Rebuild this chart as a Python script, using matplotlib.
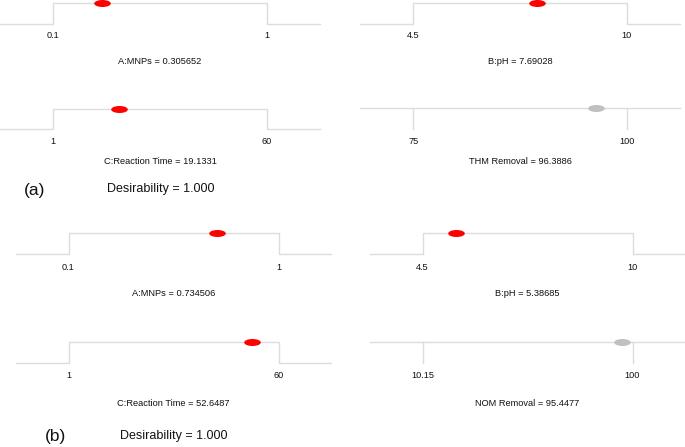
import matplotlib
matplotlib.use("Agg")
import matplotlib.pyplot as plt
from matplotlib.path import Path
from matplotlib.transforms import Affine2D

plt.rcParams['font.family'] = ['Liberation Sans', 'DejaVu Sans']

# ---------------- data ----------------
panel_labels = ["(a)", "(b)"]
factor_names = ["A:MNPs", "B:pH", "C:Reaction Time"]
factor_low = [0.1, 4.5, 1]
factor_high = [1, 10, 60]
factor_tick_labels = [["0.1", "1"], ["4.5", "10"], ["1", "60"]]
factor_values_a = [0.305652, 7.69028, 19.1331]
factor_values_b = [0.734506, 5.38685, 52.6487]
factor_value_text_a = ["0.305652", "7.69028", "19.1331"]
factor_value_text_b = ["0.734506", "5.38685", "52.6487"]
response_names = ["THM Removal", "NOM Removal"]
response_low = [75, 10.15]
response_high = [100, 100]
response_tick_labels = [["75", "100"], ["10.15", "100"]]
response_values = [96.3886, 95.4477]
response_value_text = ["96.3886", "95.4477"]
desirability = [1.000, 1.000]

# ---------------- layout (pixels) ----------------
W, H = 685, 447
fig = plt.figure(figsize=(W / 100, H / 100), dpi=100)

LINE = '#dcdcdc'
TXT = '#111111'
ell = Path.unit_circle().transformed(Affine2D().scale(1.0, 0.42))

def px_ax(left, top, width, height):
    return fig.add_axes([left / W, 1 - (top + height) / H, width / W, height / H])

def style(ax, lo, hi, ticklabels, lab_off, title, title_off):
    ext = 0.25 * (hi - lo)
    ax.set_xlim(lo - ext, hi + ext)
    ax.set_ylim(0, 1)
    for s in ax.spines.values():
        s.set_visible(False)
    ax.patch.set_visible(False)
    ax.set_yticks([])
    ax.set_xticks([lo, hi])
    ax.set_xticklabels(ticklabels, fontsize=6.6, color=TXT)
    ax.tick_params(axis='x', length=0, pad=(lab_off - 4.5) * 0.72)
    ax.annotate(title, xy=(0.5, 0), xycoords='axes fraction',
                xytext=(0, -title_off), textcoords='offset pixels',
                ha='center', va='center', fontsize=6.7, color=TXT)

def factor_ax(ax, i, val, valtxt, lab_off, title_off):
    lo, hi = factor_low[i], factor_high[i]
    ext = 0.25 * (hi - lo)
    ax.plot([lo - ext, lo, lo, hi, hi, hi + ext], [0, 0, 1, 1, 0, 0],
            color=LINE, lw=1.0, clip_on=False, solid_joinstyle='miter')
    ax.plot([val], [1], marker=ell, ms=12, color='#ff0000', mew=0,
            clip_on=False, zorder=3)
    style(ax, lo, hi, factor_tick_labels[i], lab_off,
          f"{factor_names[i]} = {valtxt}", title_off)

def response_ax(ax, j, lab_off, title_off):
    lo, hi = response_low[j], response_high[j]
    ext = 0.25 * (hi - lo)
    ax.plot([lo - ext, hi + ext], [1, 1], color=LINE, lw=1.0, clip_on=False)
    ax.plot([lo, lo], [0, 1], color=LINE, lw=1.0, clip_on=False)
    ax.plot([hi, hi], [0, 1], color=LINE, lw=1.0, clip_on=False)
    ax.plot([response_values[j]], [1], marker=ell, ms=12, color='#c0c0c0',
            mew=0, clip_on=False, zorder=3)
    style(ax, lo, hi, response_tick_labels[j], lab_off,
          f"{response_names[j]} = {response_value_text[j]}", title_off)

# panel (a)
factor_ax(px_ax(0, 3, 320, 21), 0, factor_values_a[0], factor_value_text_a[0], 11, 38)
factor_ax(px_ax(360, 3, 320, 21), 1, factor_values_a[1], factor_value_text_a[1], 11, 38)
factor_ax(px_ax(0, 109, 320, 20), 2, factor_values_a[2], factor_value_text_a[2], 12, 33)
response_ax(px_ax(360, 108, 320, 21), 0, 12, 33)

# panel (b)
factor_ax(px_ax(16, 233, 315, 21), 0, factor_values_b[0], factor_value_text_b[0], 13, 40)
factor_ax(px_ax(370, 233, 315, 21), 1, factor_values_b[1], factor_value_text_b[1], 13, 40)
factor_ax(px_ax(16, 342, 315, 21), 2, factor_values_b[2], factor_value_text_b[2], 12, 40)
response_ax(px_ax(370, 342, 315, 21), 1, 12, 40)

# panel labels and desirability
fig.text(35 / W, 1 - 190 / H, panel_labels[0], fontsize=12.5, ha='center', va='center', color=TXT)
fig.text(161 / W, 1 - 189 / H, f"Desirability = {desirability[0]:.3f}", fontsize=9,
         ha='center', va='center', color=TXT)
fig.text(56 / W, 1 - 437 / H, panel_labels[1], fontsize=12.5, ha='center', va='center', color=TXT)
fig.text(174 / W, 1 - 436 / H, f"Desirability = {desirability[1]:.3f}", fontsize=9,
         ha='center', va='center', color=TXT)

fig.savefig("out.png", dpi=100)
